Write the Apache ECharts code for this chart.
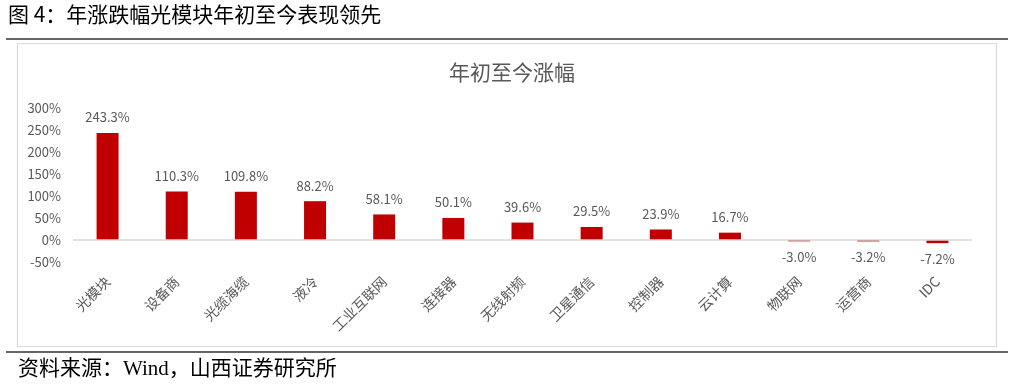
<!DOCTYPE html>
<html><head><meta charset="utf-8">
<script src="https://cdn.jsdelivr.net/npm/echarts@6/dist/echarts.min.js"></script>
<style>html,body{margin:0;padding:0;background:#fff}#c{width:1014px;height:392px}</style>
</head><body><div id="c"></div>
<script>
const categories = ['光模块','设备商','光缆海缆','液冷','工业互联网','连接器','无线射频','卫星通信','控制器','云计算','物联网','运营商','IDC'];
const values = [243.3,110.3,109.8,88.2,58.1,50.1,39.6,29.5,23.9,16.7,-3.0,-3.2,-7.2];
const yTicks = {min:-50, max:300, interval:50};
const headerText = '图 4：年涨跌幅光模块年初至今表现领先';
const chartTitle = '年初至今涨幅';
const sourceText = '资料来源：Wind，山西证券研究所';

const FONT = '"Noto Sans CJK SC", "Noto Sans", sans-serif';
const GRAY = '#595959';
const chart = echarts.init(document.getElementById('c'), null, {renderer:'canvas'});
chart.setOption({
  animation:false,
  backgroundColor:'#fff',
  textStyle:{fontFamily:FONT},
  title:{text:chartTitle, left:507, textAlign:'center', top:57,
    textStyle:{fontSize:21, fontWeight:'normal', color:GRAY, fontFamily:FONT}},
  graphic:[
    {type:'text', left:8, top:4, style:{text:headerText, fill:'#000', font:'21px "Noto Sans CJK SC"'}},
    {type:'line', shape:{x1:6,y1:39,x2:1008,y2:39}, style:{stroke:'#333', lineWidth:1.5}},
    {type:'rect', shape:{x:17.5,y:43.5,width:979,height:303}, style:{fill:'none', stroke:'#d9d9d9', lineWidth:1.2}},
    {type:'line', shape:{x1:6,y1:352,x2:1008,y2:352}, style:{stroke:'#333', lineWidth:1.5}},
    {type:'text', left:18, top:359, style:{text:sourceText, fill:'#000', font:'21px "Liberation Serif", "Noto Sans CJK SC"'}}
  ],
  grid:{left:73, right:42, top:108, bottom:130, containLabel:false},
  xAxis:{type:'category', data:categories,
    axisLine:{show:false, onZero:false}, axisTick:{show:false},
    axisLabel:{rotate:45, interval:0, margin:17, fontSize:14, color:GRAY, fontFamily:FONT}},
  yAxis:{type:'value', min:yTicks.min, max:yTicks.max, interval:yTicks.interval,
    axisLine:{show:false}, axisTick:{show:false}, splitLine:{show:false},
    axisLabel:{formatter:'{value}%', fontSize:13, color:GRAY, margin:12, fontFamily:FONT}},
  series:[{type:'bar', barWidth:22,
    data:values.map(v=>v<0?{value:v,label:{position:'bottom'}}:v),
    itemStyle:{color:'#C00000'},
    label:{show:true, position:'top', distance:9, fontSize:13, color:GRAY, fontFamily:FONT,
      formatter:p=>p.value.toFixed(1)+'%'},
    markLine:{silent:true, symbol:'none', label:{show:false},
      lineStyle:{color:'#d9d9d9', type:'solid', width:1.5},
      data:[{yAxis:0}]}
  }]
});
</script></body></html>
